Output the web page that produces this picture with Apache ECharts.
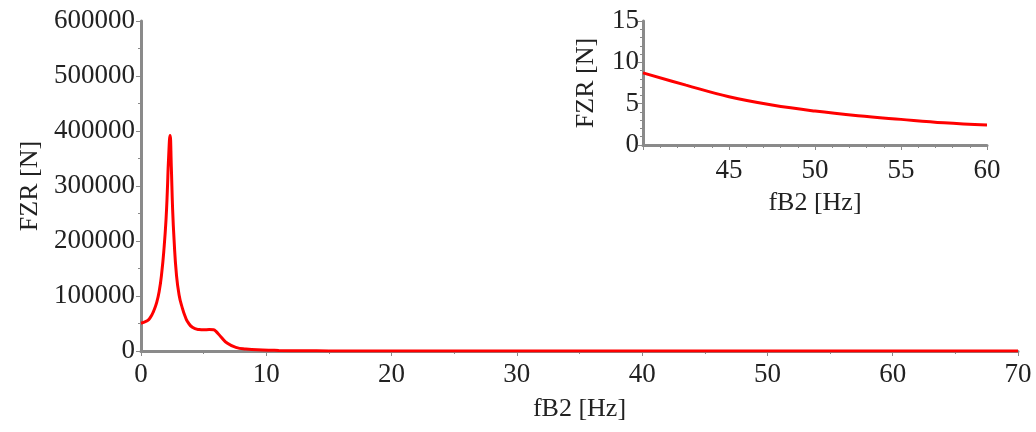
<!DOCTYPE html>
<html>
<head>
<meta charset="utf-8">
<script src="https://cdn.jsdelivr.net/npm/echarts@6/dist/echarts.min.js"></script>
<style>
  html, body { margin: 0; padding: 0; background: #fff; }
  #chart { width: 1036px; height: 432px; }
</style>
</head>
<body>
<div id="chart"></div>
<script>
  // main plot: FZR over fB2
  const mainFreq = [0, 0.5, 0.75, 1.0, 1.25, 1.45, 1.65, 1.85, 2.0, 2.1, 2.2, 2.32, 2.42, 2.52, 2.64, 2.82,
    3.04, 3.3, 3.57, 3.7, 4.1, 4.64, 5.0, 5.44, 5.8, 5.97, 6.37, 6.9, 7.57, 8.37, 9.7, 11, 13, 15,
    20, 25, 30, 40, 50, 60, 70];
  const mainForce = [50500, 55000, 61000, 72000, 88000, 108000, 141000, 190000, 240000, 290000, 350000, 392000,
    335000, 260000, 202000, 141000, 102000, 78000, 60000, 54000, 43000, 39000, 38500, 39000, 38500, 36000,
    26000, 14000, 6700, 3600, 1800, 1000, 400, 200, 70, 35, 20, 9, 4.2, 2.4, 1.5];

  // inset: zoom on 40..60 Hz
  const insetFreq = [40, 42.5, 45, 47.5, 50, 52.5, 55, 57.5, 60];
  const insetForce = [8.73, 7.24, 5.83, 4.83, 4.1, 3.54, 3.1, 2.69, 2.41];

  const axisColor = '#8a8a8a';
  const textColor = '#222';
  const font = 'Liberation Serif';

  const pairs = (xs, ys) => xs.map((x, i) => [x, ys[i]]);

  function axisCommon() {
    return {
      type: 'value',
      axisLine: {show: true, onZero: false, lineStyle: {color: axisColor, width: 3}},
      axisTick: {show: true, length: 5, lineStyle: {color: axisColor, width: 1}},
      minorTick: {show: true, splitNumber: 2, length: 3, lineStyle: {color: axisColor}},
      splitLine: {show: false},
      axisLabel: {color: textColor, fontFamily: font, fontSize: 27, margin: 6, formatter: v => String(v)},
      nameLocation: 'middle',
      nameTextStyle: {color: textColor, fontFamily: font, fontSize: 26}
    };
  }

  const chart = echarts.init(document.getElementById('chart'));

  const option = {
    animation: false,
    grid: [
      {left: 141, right: 18, top: 21, bottom: 81},
      {left: 643, right: 49, top: 21, bottom: 287}
    ],
    xAxis: [
      Object.assign(axisCommon(), {
        gridIndex: 0, min: 0, max: 70, interval: 10,
        name: 'fB2 [Hz]', nameGap: 45,
        axisLabel: Object.assign(axisCommon().axisLabel, {margin: 10})
      }),
      Object.assign(axisCommon(), {
        gridIndex: 1, min: 40, max: 60, interval: 5,
        minorTick: {show: true, splitNumber: 5, length: 3, lineStyle: {color: axisColor}},
        name: 'fB2 [Hz]', nameGap: 45,
        axisLabel: Object.assign(axisCommon().axisLabel, {margin: 12, showMinLabel: false})
      })
    ],
    yAxis: [
      Object.assign(axisCommon(), {
        gridIndex: 0, min: 0, max: 600000, interval: 100000,
        name: 'FZR [N]', nameGap: 98
      }),
      Object.assign(axisCommon(), {
        gridIndex: 1, min: 0, max: 15, interval: 5,
        minorTick: {show: true, splitNumber: 5, length: 3, lineStyle: {color: axisColor}},
        name: 'FZR [N]', nameGap: 44,
        axisLabel: Object.assign(axisCommon().axisLabel, {margin: 4})
      })
    ],
    series: [
      {
        type: 'line',
        xAxisIndex: 0,
        yAxisIndex: 0,
        data: pairs(mainFreq, mainForce),
        smooth: 0.5,
        showSymbol: false,
        lineStyle: {color: '#ff0000', width: 3},
        z: 3
      },
      {
        type: 'line',
        xAxisIndex: 1,
        yAxisIndex: 1,
        data: pairs(insetFreq, insetForce),
        smooth: 0.4,
        showSymbol: false,
        lineStyle: {color: '#ff0000', width: 3}
      }
    ]
  };

  chart.setOption(option);
</script>
</body>
</html>
